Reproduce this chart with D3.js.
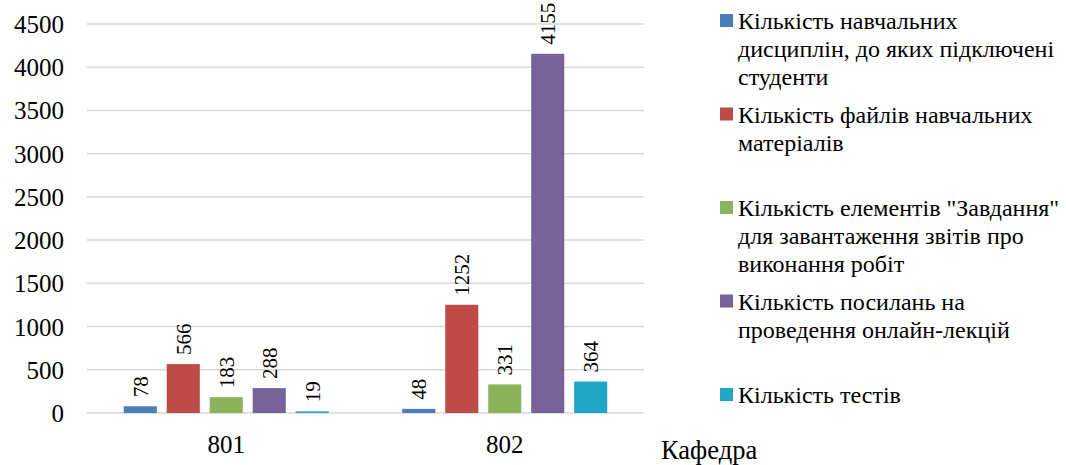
<!DOCTYPE html>
<html lang="uk">
<head>
    <meta charset="utf-8">
    <title>Кафедра</title>
</head>
<body style="margin:0; background:#fff">
    <svg width="1066" height="465" font-family="Liberation Serif"></svg>
    <script src="https://cdn.jsdelivr.net/npm/d3@7"></script>
    <script>
        // data
        const categories = ["801", "802"];
        const series = [
            "Кількість навчальних дисциплін, до яких підключені студенти",
            "Кількість файлів навчальних матеріалів",
            "Кількість елементів \"Завдання\" для завантаження звітів про виконання робіт",
            "Кількість посилань на проведення онлайн-лекцій",
            "Кількість тестів"
        ];
        // legend line breaks as in the original
        const legendLines = [
            ["Кількість навчальних", "дисциплін, до яких підключені", "студенти"],
            ["Кількість файлів навчальних", "матеріалів"],
            ["Кількість елементів \"Завдання\"", "для завантаження звітів про", "виконання робіт"],
            ["Кількість посилань на", "проведення онлайн-лекцій"],
            ["Кількість тестів"]
        ];
        const values801 = [78, 566, 183, 288, 19];
        const values802 = [48, 1252, 331, 4155, 364];
        const yTicks = [0, 500, 1000, 1500, 2000, 2500, 3000, 3500, 4000, 4500];
        const colors = ["#4a7ebb", "#be4b48", "#8cb35c", "#77629a", "#20a6c4"];
        const axisTitle = "Кафедра";

        const FONT = "Liberation Serif";

        const table = categories.map((c, i) => ({
            cat: c,
            vals: (i === 0 ? values801 : values802)
        }));

        const svg = d3.select("svg");
        const m = { left: 87, right: 644, top: 24, bottom: 413 };

        const x = d3.scaleBand()
            .domain(categories)
            .range([m.left, m.right]);

        const xInner = d3.scaleBand()
            .domain(d3.range(series.length))
            .range([0, 205])
            .paddingInner(0.23);

        const y = d3.scaleLinear()
            .domain([0, 4500])
            .range([m.bottom, m.top]);

        // gridlines
        svg.append("g")
            .selectAll("line")
            .data(yTicks)
            .join("line")
                .attr("x1", m.left)
                .attr("x2", m.right)
                .attr("y1", d => y(d))
                .attr("y2", d => y(d))
                .attr("stroke", "#d9d9d9")
                .attr("stroke-width", 1.5);

        // y axis labels
        const yAxis = svg.append("g")
            .attr("transform", `translate(${m.left - 23},0)`)
            .call(d3.axisLeft(y).tickValues(yTicks).tickFormat(d3.format("d")).tickSize(0).tickPadding(0));
        yAxis.select(".domain").remove();
        yAxis.attr("font-family", FONT);
        yAxis.selectAll("text")
            .attr("font-family", FONT)
            .attr("font-size", 25)
            .attr("fill", "#000")
            .attr("dy", "0.34em");

        // x axis labels
        const xAxis = svg.append("g")
            .attr("transform", `translate(0,${m.bottom})`)
            .call(d3.axisBottom(x).tickSize(0).tickPadding(0));
        xAxis.select(".domain").remove();
        xAxis.attr("font-family", FONT);
        xAxis.selectAll("text")
            .attr("font-family", FONT)
            .attr("font-size", 25)
            .attr("fill", "#000")
            .attr("dy", null)
            .attr("y", 40);

        // bars
        const groups = svg.append("g")
            .selectAll("g")
            .data(table)
            .join("g")
                .attr("transform", d => `translate(${x(d.cat) + (x.bandwidth() - 205) / 2},0)`);

        groups.selectAll("rect")
            .data(d => d.vals)
            .join("rect")
                .attr("x", (d, i) => xInner(i))
                .attr("width", xInner.bandwidth())
                .attr("y", d => y(d))
                .attr("height", d => y(0) - y(d))
                .attr("fill", (d, i) => colors[i]);

        // data labels, rotated
        groups.selectAll("text")
            .data(d => d.vals)
            .join("text")
                .attr("transform", (d, i) => `translate(${xInner(i) + xInner.bandwidth() / 2},${y(d) - 9}) rotate(-90)`)
                .attr("dy", "0.35em")
                .attr("font-family", FONT)
                .attr("font-size", 21)
                .attr("fill", "#000")
                .text(d => d);

        // axis title
        svg.append("text")
            .attr("x", 661)
            .attr("y", 459)
            .attr("font-family", FONT)
            .attr("font-size", 26.5)
            .text(axisTitle);

        // legend
        const legend = svg.append("g")
            .selectAll("g")
            .data(legendLines)
            .join("g")
                .attr("transform", (d, i) => `translate(720,${20.5 + i * 93.5})`);

        legend.append("rect")
            .attr("y", -6.5)
            .attr("width", 13)
            .attr("height", 13)
            .attr("fill", (d, i) => colors[i]);

        legend.append("text")
            .attr("font-family", FONT)
            .attr("font-size", 24)
            .attr("fill", "#000")
            .selectAll("tspan")
            .data(d => d)
            .join("tspan")
                .attr("x", 18)
                .attr("y", (d, j) => 8.5 + j * 28)
                .text(d => d);

        legend.append("title").text((d, i) => series[i]);
    </script>
</body>
</html>
